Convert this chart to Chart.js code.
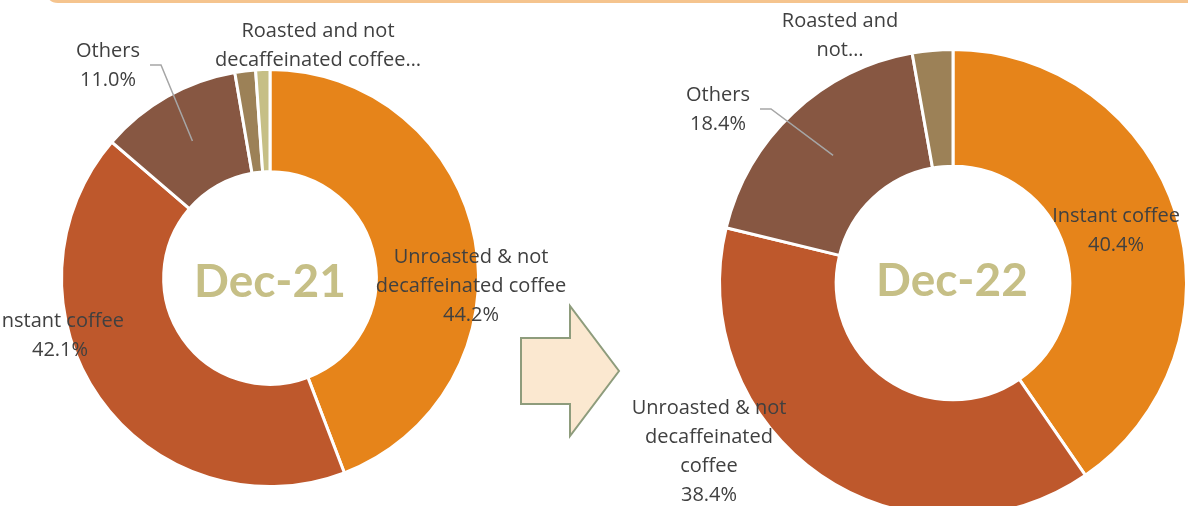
<!DOCTYPE html>
<html>
<head>
<meta charset="utf-8">
<script src="https://cdn.jsdelivr.net/npm/chart.js@4/dist/chart.umd.min.js"></script>
<style>
  html, body { margin: 0; padding: 0; background: #fff; }
  body { width: 1188px; height: 506px; overflow: hidden; position: relative; }
  canvas { position: absolute; left: 0; top: 0; }
</style>
</head>
<body>
<canvas id="bg" width="1188" height="506"></canvas>
<div id="wrap21" style="position:absolute;left:0;top:0;width:1188px;height:506px"><canvas id="chart21"></canvas></div>
<div id="wrap22" style="position:absolute;left:0;top:0;width:1188px;height:540px"><canvas id="chart22"></canvas></div>
<script>
// data
var categories21 = ["Unroasted & not decaffeinated coffee", "Instant coffee", "Others", "Roasted and not decaffeinated coffee", "Roasted and decaffeinated coffee"];
var values21 = [44.2, 42.1, 11.0, 1.6, 1.1];
var categories22 = ["Instant coffee", "Unroasted & not decaffeinated coffee", "Others", "Roasted and not decaffeinated coffee"];
var values22 = [40.4, 38.4, 18.4, 2.8];

// label text as it wraps in the picture (null = no label)
var labelText21 = [["Unroasted & not", "decaffeinated coffee"], ["Instant coffee"], ["Others"], ["Roasted and not", "decaffeinated coffee\u2026"], null];
var showPct21 = [true, true, true, false, false];
var labelText22 = [["Instant coffee"], ["Unroasted & not", "decaffeinated", "coffee"], ["Others"], ["Roasted and", "not\u2026"]];
var showPct22 = [true, true, true, false];

var sliceColors = ["#E6841A", "#BE582C", "#875742", "#9C8157", "#C6BF86"];
var LABEL_FONT = "'Open Sans', Lato, sans-serif";
var TITLE_FONT = "Lato, 'Open Sans', sans-serif";

// background: frame edge and arrow
var bg = document.getElementById("bg").getContext("2d");
bg.strokeStyle = "#F5C48E";
bg.lineWidth = 3;
bg.beginPath();
bg.moveTo(48, -10);
bg.quadraticCurveTo(48, 1.5, 58, 1.5);
bg.lineTo(1200, 1.5);
bg.stroke();

bg.fillStyle = "#FBE8D0";
bg.strokeStyle = "#8E9C7C";
bg.lineWidth = 2;
bg.beginPath();
bg.moveTo(521, 338);
bg.lineTo(570, 338);
bg.lineTo(570, 306);
bg.lineTo(619, 371);
bg.lineTo(570, 436);
bg.lineTo(570, 404);
bg.lineTo(521, 404);
bg.closePath();
bg.fill();
bg.stroke();

// draws the Excel style labels, leader line and the centre title
const labelPlugin = {
    id: "labels",
    afterDatasetsDraw(chart, args, opts) {
        const ctx = chart.ctx;
        const arcs = chart.getDatasetMeta(0).data;
        const vals = chart.data.datasets[0].data;
        ctx.save();
        ctx.textAlign = "center";
        ctx.textBaseline = "middle";

        // centre title
        const c = arcs[0];
        ctx.font = "bold 46px " + TITLE_FONT;
        ctx.fillStyle = "#C6BF86";
        ctx.fillText(opts.title, c.x + opts.titleDx, c.y + opts.titleDy);

        ctx.font = "20px " + LABEL_FONT;
        ctx.fillStyle = "#404040";
        opts.text.forEach((lines, i) => {
            if (!lines) return;
            let all = lines.slice();
            if (opts.pct[i]) all.push(vals[i].toFixed(1) + "%");
            const p = opts.pos[i];
            all.forEach((t, k) => ctx.fillText(t, p[0], p[1] + k * 29));
        });

        // leader line for "Others"
        if (opts.leader != null) {
            const i = opts.leader;
            const p = opts.pos[i];
            const tip = arcs[i].tooltipPosition();
            ctx.strokeStyle = "#A6A6A6";
            ctx.lineWidth = 1.5;
            ctx.beginPath();
            ctx.moveTo(p[0] + 42, p[1] + 14);
            ctx.lineTo(p[0] + 53, p[1] + 14);
            ctx.lineTo(tip.x, tip.y);
            ctx.stroke();
        }
        ctx.restore();
    }
};

function makeDonut(id, labels, values, cutout, padding, plugOpts) {
    return new Chart(document.getElementById(id), {
        type: "doughnut",
        data: {
            labels: labels,
            datasets: [{
                data: values,
                backgroundColor: sliceColors.slice(0, values.length),
                borderColor: "#ffffff",
                borderWidth: 3
            }]
        },
        options: {
            responsive: true,
            maintainAspectRatio: false,
            animation: false,
            cutout: cutout,
            events: [],
            layout: { padding: padding },
            plugins: {
                legend: { display: false },
                tooltip: { enabled: false },
                labels: plugOpts
            }
        },
        plugins: [labelPlugin]
    });
}

makeDonut("chart21", categories21, values21, "51%",
    { left: 60, top: 68, right: 708, bottom: 18 },
    {
        title: "Dec-21", titleDx: 0, titleDy: 4,
        text: labelText21, pct: showPct21,
        pos: [[471, 257], [60, 321], [108, 51], [318, 31], null],
        leader: 2
    });

makeDonut("chart22", categories22, values22, "50%",
    { left: 718, top: 48, right: 0, bottom: 22 },
    {
        title: "Dec-22", titleDx: -1, titleDy: -2,
        text: labelText22, pct: showPct22,
        pos: [[1116, 216], [709, 408], [718, 95], [840, 21]],
        leader: 2
    });
</script>
</body>
</html>
